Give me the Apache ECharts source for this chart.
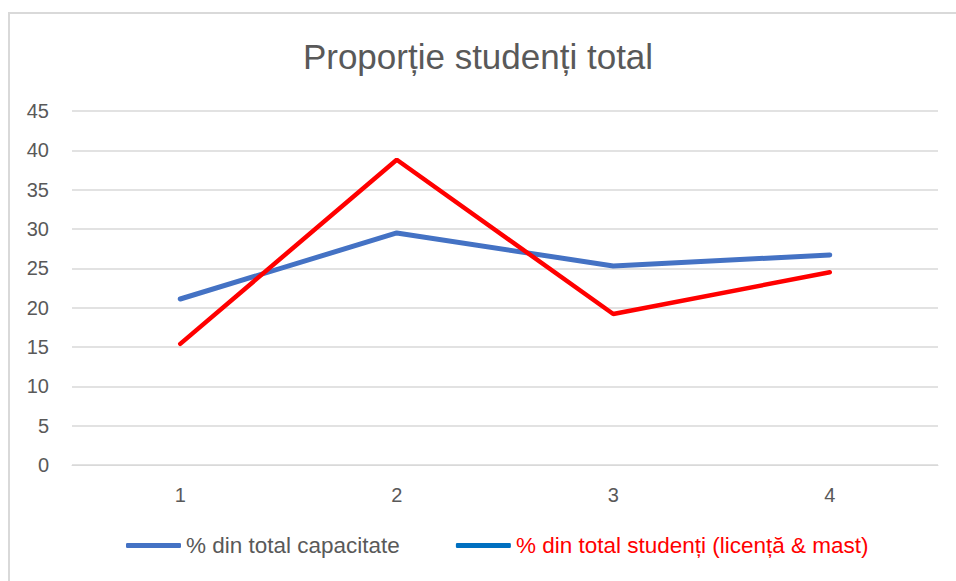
<!DOCTYPE html>
<html>
<head>
<meta charset="utf-8">
<script src="https://cdn.jsdelivr.net/npm/echarts@6/dist/echarts.min.js"></script>
<style>
  html, body { margin: 0; padding: 0; background: #fff; overflow: hidden; }
  #frame { position: absolute; left: 8px; top: 12px; width: 1000px; height: 700px; border: 2px solid #d9d9d9; box-sizing: border-box; }
  #chart { position: absolute; left: 0; top: 0; width: 956px; height: 581px; }
</style>
</head>
<body>
<div id="frame"></div>
<div id="chart"></div>
<script>
var categories = ['1', '2', '3', '4'];
var capacitate = [21.1, 29.5, 25.3, 26.7];
var studenti = [15.4, 38.8, 19.2, 24.5];
var seriesNames = ['% din total capacitate', '% din total studenți (licență & mast)'];

(function() {
  var font = '"Liberation Sans", sans-serif';
  var gray = '#595959';
  var chart = echarts.init(document.getElementById('chart'), null, { renderer: 'svg' });
  chart.setOption({
    animation: false,
    title: {
      text: 'Proporție studenți total',
      left: 'center',
      top: 34,
      textStyle: { color: gray, fontSize: 35, fontWeight: 'normal', fontFamily: font }
    },
    grid: { left: 72, right: 18, top: 111, bottom: 116 },
    legend: {
      bottom: 19,
      left: 121,
      itemWidth: 55,
      itemHeight: 5,
      itemGap: 56,
      icon: 'roundRect',
      textStyle: { fontSize: 22.5, fontFamily: font, color: gray },
      data: [
        { name: seriesNames[0], itemStyle: { color: '#4472C4' }, textStyle: { color: gray } },
        { name: seriesNames[1], itemStyle: { color: '#0070C0' }, textStyle: { color: '#FF0000' } }
      ]
    },
    xAxis: {
      type: 'category',
      data: categories,
      boundaryGap: true,
      axisLine: { lineStyle: { color: '#d9d9d9' } },
      axisTick: { show: false },
      axisLabel: { color: gray, fontSize: 20, fontFamily: font, margin: 20 }
    },
    yAxis: {
      type: 'value',
      min: 0,
      max: 45,
      interval: 5,
      axisLine: { show: false },
      axisTick: { show: false },
      axisLabel: { color: gray, fontSize: 20, fontFamily: font, margin: 23 },
      splitLine: { lineStyle: { color: '#d9d9d9', width: 1.5 } }
    },
    series: [
      {
        name: seriesNames[0],
        type: 'line',
        data: capacitate,
        symbol: 'none',
        lineStyle: { color: '#4472C4', width: 5, cap: 'round' },
        itemStyle: { color: '#4472C4' }
      },
      {
        name: seriesNames[1],
        type: 'line',
        data: studenti,
        symbol: 'none',
        lineStyle: { color: '#FF0000', width: 4.5, cap: 'round' },
        itemStyle: { color: '#FF0000' }
      }
    ]
  });
})();
</script>
</body>
</html>
